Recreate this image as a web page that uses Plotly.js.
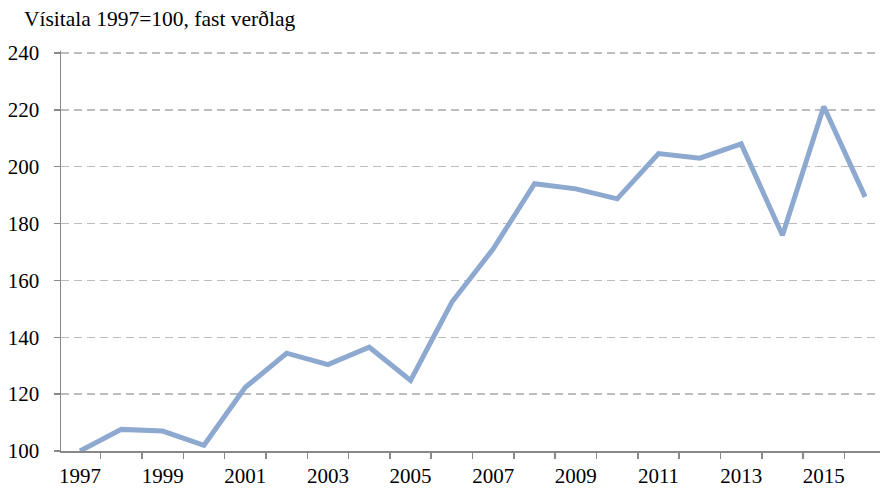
<!DOCTYPE html>
<html>
<head>
<meta charset="utf-8">
<script src="https://cdn.plot.ly/plotly-3.0.1.min.js"></script>
<style>html,body{margin:0;padding:0;background:#fff;}#chart{width:880px;height:489px;}</style>
</head>
<body>
<div id="chart"></div>
<script>
const years = [1997,1998,1999,2000,2001,2002,2003,2004,2005,2006,2007,2008,2009,2010,2011,2012,2013,2014,2015,2016];
const values = [100,107.6,107,102,122.4,134.4,130.4,136.5,124.8,152.4,171.1,194,192.2,188.7,204.6,203,208,175.9,221.2,189.4];
const yTicks = [100,120,140,160,180,200,220,240];
const titleText = 'Vísitala 1997=100, fast verðlag';

const font = {family: '"Liberation Serif", "Times New Roman", serif', size: 21, color: '#000'};
const titleFont = {family: '"Liberation Serif", "Times New Roman", serif', size: 21.5, color: '#000'};

Plotly.newPlot('chart', [{
  x: years, y: values, type: 'scatter', mode: 'lines',
  line: {color: '#8EA9D0', width: 5}, hoverinfo: 'skip'
}], {
  width: 880, height: 489,
  margin: {l: 61, r: 0, t: 51, b: 38},
  paper_bgcolor: '#fff', plot_bgcolor: '#fff',
  font: font,
  showlegend: false,
  title: {text: titleText, font: titleFont, x: 24/880, xanchor: 'left', xref: 'container', y: 1 - 18/489, yanchor: 'middle', yref: 'container'},
  xaxis: {
    range: [1996.54, 2016.36], tick0: 1997, dtick: 2, ticks: '', showgrid: false, zeroline: false,
    showline: true, linecolor: '#888', linewidth: 1.5, tickfont: font, ticklabelstandoff: 5,
    minor: {tick0: 1996.5, dtick: 1, ticks: 'outside', ticklen: 6, tickcolor: '#888', tickwidth: 1.5, showgrid: false}
  },
  yaxis: {
    range: [100, 240.7], tickvals: yTicks, ticks: 'outside', ticklen: 6, tickcolor: '#888', tickwidth: 1.5,
    showline: true, linecolor: '#888', linewidth: 1.5, zeroline: false, ticklabelstandoff: 10,
    showgrid: true, gridcolor: '#BDBDBD', griddash: '8px,5px', gridwidth: 1.5, tickfont: font
  }
}, {displayModeBar: false, staticPlot: true});
</script>
</body>
</html>
